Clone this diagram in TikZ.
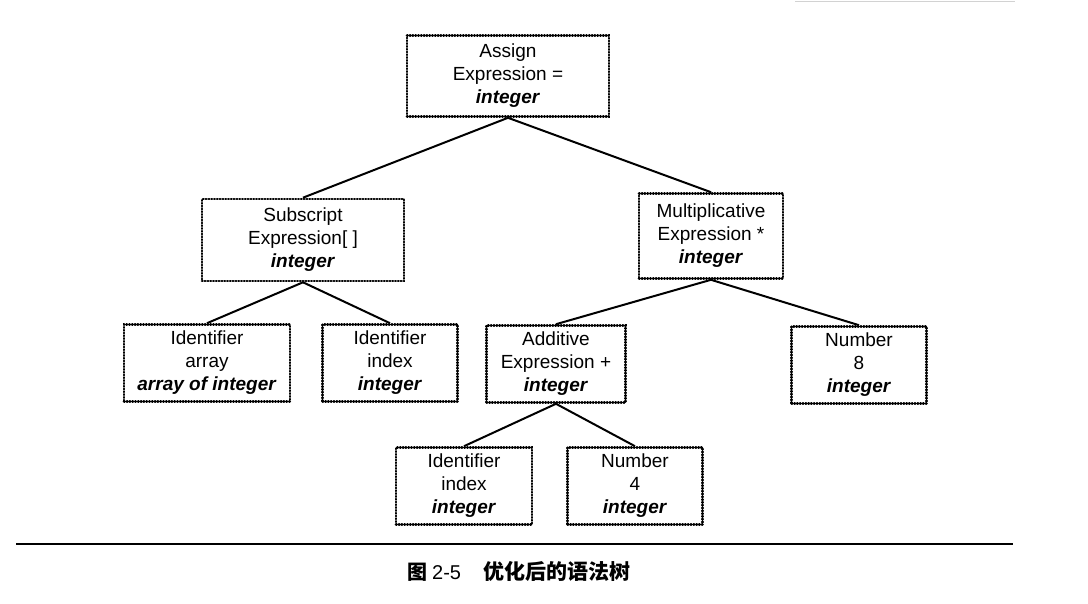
\documentclass[tikz,border=0pt]{standalone}
\usepackage{fontspec}
\setmainfont{Liberation Sans}
\newfontfamily\cjk{Noto Sans CJK SC}
\begin{document}
\begin{tikzpicture}[x=1pt,y=-1pt,
  treebox/.style={draw=black, line width=2.6pt, dash pattern=on 0.6pt off 2.2pt, line cap=round,
    rectangle, align=center, inner sep=0pt, font=\fontsize{19}{23}\selectfont},
  edge/.style={draw=black, line width=2pt}]
\useasboundingbox (0,0) rectangle (1088,604);
\fill[white] (0,0) rectangle (1088,604);
\newcommand{\bint}[1]{\textbf{\textit{#1}}}
% faint scan line top right
\coordinate (tl1) at (795,1.5);
\coordinate (tl2) at (1015,1.5);
\draw[gray!35, line width=1.2pt] (tl1) -- (tl2);

\node[treebox, minimum width=202pt, minimum height=81pt] (assign) at (508,76)
  {Assign\\Expression =\\\bint{integer}};
\node[treebox, minimum width=202pt, minimum height=82pt] (sub) at (303,240)
  {Subscript\\Expression[ ]\\\bint{integer}};
\node[treebox, minimum width=144pt, minimum height=85pt] (mul) at (711,236)
  {Multiplicative\\Expression *\\\bint{integer}};
\node[treebox, minimum width=166pt, minimum height=77pt] (arr) at (207,363)
  {Identifier\\array\\\bint{array of integer}};
\node[treebox, minimum width=135pt, minimum height=77pt] (idx) at (390,363)
  {Identifier\\index\\\bint{integer}};
\node[treebox, minimum width=139pt, minimum height=77pt] (add) at (556,364)
  {Additive\\Expression +\\\bint{integer}};
\node[treebox, minimum width=135pt, minimum height=77pt] (n8) at (859,365)
  {Number\\8\\\bint{integer}};
\node[treebox, minimum width=136pt, minimum height=77pt] (idx2) at (464,486)
  {Identifier\\index\\\bint{integer}};
\node[treebox, minimum width=135pt, minimum height=77pt] (n4) at (635,486)
  {Number\\4\\\bint{integer}};

\draw[edge] (assign.south) -- (sub.north);
\draw[edge] (assign.south) -- (mul.north);
\draw[edge] (sub.south) -- (arr.north);
\draw[edge] (sub.south) -- (idx.north);
\draw[edge] (mul.south) -- (add.north);
\draw[edge] (mul.south) -- (n8.north);
\draw[edge] (add.south) -- (idx2.north);
\draw[edge] (add.south) -- (n4.north);

\coordinate (rl) at (16,544);
\coordinate (rr) at (1013,544);
\draw[black, line width=2pt] (rl) -- (rr);
\node[inner sep=0pt, anchor=west] (cap) at (407,571)
  {{\cjk\bfseries\fontsize{20}{22}\selectfont 图}\hspace{5pt}{\fontsize{20}{22}\selectfont 2-5}\hspace{22pt}{\cjk\bfseries\fontsize{21}{22}\selectfont 优化后的语法树}};
\end{tikzpicture}
\end{document}
